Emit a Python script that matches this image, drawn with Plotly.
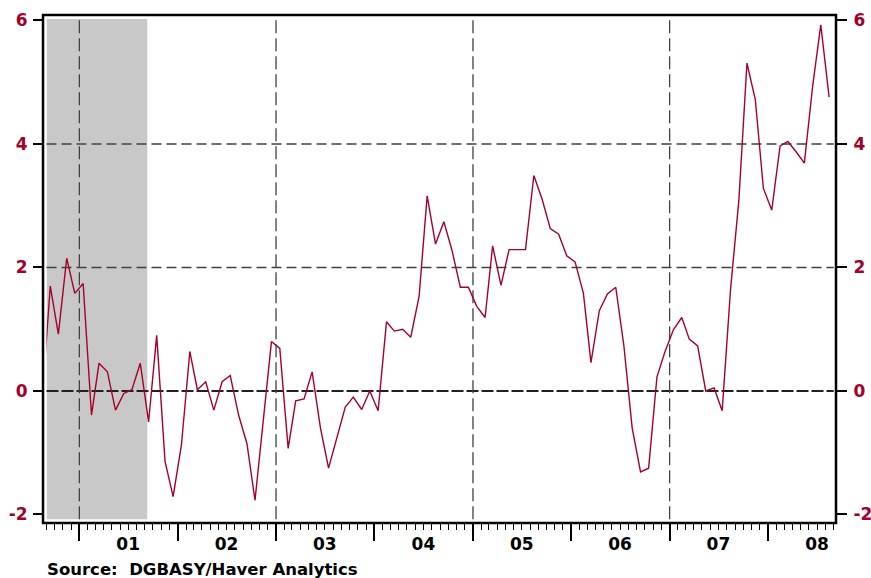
import pandas as pd
import plotly.graph_objects as go

# ---- data (monthly, Aug 2000 - Aug 2008) ----
start_month = "2000-08-01"
values = [
    -0.20, 1.70, 0.92, 2.15, 1.58,                                   # 2000 Aug-Dec
    1.74, -0.39, 0.45, 0.31, -0.31, -0.04, 0.02, 0.45, -0.50, 0.90, -1.14, -1.71,   # 2001
    -0.87, 0.64, 0.02, 0.15, -0.31, 0.15, 0.25, -0.39, -0.85, -1.77, -0.45, 0.80,   # 2002
    0.69, -0.93, -0.16, -0.13, 0.31, -0.60, -1.25, -0.74, -0.26, -0.10, -0.30, 0.00, # 2003
    -0.32, 1.12, 0.97, 1.00, 0.87, 1.53, 3.16, 2.38, 2.74, 2.28, 1.68, 1.68,         # 2004
    1.37, 1.19, 2.35, 1.71, 2.29, 2.29, 2.29, 3.49, 3.10, 2.63, 2.54, 2.19,          # 2005
    2.09, 1.58, 0.46, 1.30, 1.57, 1.68, 0.74, -0.60, -1.31, -1.25, 0.23, 0.64,       # 2006
    0.99, 1.19, 0.84, 0.73, 0.00, 0.05, -0.32, 1.64, 3.09, 5.31, 4.72, 3.28,         # 2007
    2.93, 3.97, 4.04, 3.87, 3.69, 4.94, 5.93, 4.76,                                  # 2008 Jan-Aug
]
year_labels = ["01", "02", "03", "04", "05", "06", "07", "08"]
label_dates = ["2001-07-01", "2002-07-01", "2003-07-01", "2004-07-01",
               "2005-07-01", "2006-07-01", "2007-07-01", "2008-07-01"]
year_starts = ["2001-01-01", "2002-01-01", "2003-01-01", "2004-01-01",
               "2005-01-01", "2006-01-01", "2007-01-01", "2008-01-01"]
vgrid_dates = ["2001-01-01", "2003-01-01", "2005-01-01", "2007-01-01"]
y_ticks = [-2, 0, 2, 4, 6]
y_ticktext = ["-2", "0", "2", "4", "6"]
hgrid_vals = [2, 4]
recession = ("2000-09-01", "2001-09-10")
x_range = ["2000-09-01", "2008-09-01"]
y_range = [-2.078, 6.024]

dates = (pd.date_range(start_month, periods=len(values), freq="MS")
         + pd.Timedelta(days=14)).strftime("%Y-%m-%d").tolist()

RED = "#A5002A"
W, H = 871, 578
ML, MR, MT, MB = 43, 35, 15, 55
PW, PH = W - ML - MR, H - MT - MB

def px_x(px):
    return (px - ML) / PW

def px_y(py):
    return (H - MB - py) / PH

fig = go.Figure()
fig.add_trace(go.Scatter(x=dates, y=values, mode="lines",
                         line=dict(color=RED, width=1.4),
                         hoverinfo="skip", showlegend=False))
# helper trace (single point, draws nothing) so the secondary axes get rendered
fig.add_trace(go.Scatter(x=[dates[0]], y=[values[0]], xaxis="x2", yaxis="y2",
                         mode="lines", line=dict(color="rgba(0,0,0,0)", width=0),
                         hoverinfo="skip", showlegend=False))

tickfont_red = dict(family="DejaVu Sans", size=17, color=RED, weight="bold")
tickfont_blk = dict(family="DejaVu Sans", size=17, color="black", weight="bold")

xdom = [px_x(46.5), px_x(833.7)]
ydom = [px_y(519.3), px_y(19)]

shapes = []
# recession shading
shapes.append(dict(type="rect", xref="x", yref="y domain", x0=recession[0], x1=recession[1],
                   y0=0, y1=1, fillcolor="#C8C8C8", line=dict(width=0), layer="below"))
for v in hgrid_vals:
    shapes.append(dict(type="line", xref="x domain", yref="y", x0=0, x1=1, y0=v, y1=v,
                       line=dict(color="#404040", width=1.3, dash="10px,5px"), layer="below"))
shapes.append(dict(type="line", xref="x domain", yref="y", x0=0, x1=1, y0=0, y1=0,
                   line=dict(color="#202020", width=1.8, dash="12px,3px"), layer="below"))
for d in vgrid_dates:
    shapes.append(dict(type="line", xref="x", yref="y domain", x0=d, x1=d, y0=0, y1=1,
                       line=dict(color="#404040", width=1.3, dash="13px,5px"), layer="below"))
# frame
shapes.append(dict(type="rect", xref="paper", yref="paper", x0=0, x1=1, y0=0, y1=1,
                   line=dict(color="black", width=2.5), fillcolor="rgba(0,0,0,0)", layer="above"))

fig.update_layout(
    width=W, height=H,
    margin=dict(l=ML, r=MR, t=MT, b=MB, autoexpand=False),
    paper_bgcolor="white", plot_bgcolor="white",
    showlegend=False,
    xaxis=dict(type="date", domain=xdom, range=x_range, anchor="free", position=0,
               automargin=False,
               tickmode="array", tickvals=label_dates, ticktext=year_labels,
               ticks="outside", ticklen=6, tickwidth=1, tickcolor="black",
               ticklabelstandoff=0,
               tickfont=tickfont_blk, showgrid=False, zeroline=False, showline=False,
               minor=dict(ticks="outside", ticklen=6, tickwidth=1, tickcolor="black",
                          dtick="M1", tick0="2000-01-01", showgrid=False)),
    xaxis2=dict(type="date", domain=xdom, range=x_range, anchor="free", position=0,
                automargin=False,
                overlaying="x", tickmode="array", tickvals=year_starts,
                ticks="outside", ticklen=17, tickwidth=2.2, tickcolor="black",
                showticklabels=False, showgrid=False, zeroline=False, showline=False),
    yaxis=dict(domain=ydom, range=y_range, anchor="free", position=0,
               automargin=False,
               tickmode="array", tickvals=y_ticks, ticktext=y_ticktext,
               ticks="outside", ticklen=10, tickwidth=2.2, tickcolor="black",
               ticklabelstandoff=2,
               tickfont=tickfont_red, showgrid=False, zeroline=False, showline=False),
    yaxis2=dict(domain=ydom, range=y_range, anchor="free", position=1, side="right",
                automargin=False,
                overlaying="y", tickmode="array", tickvals=y_ticks, ticktext=y_ticktext,
                ticks="outside", ticklen=10, tickwidth=2.2, tickcolor="black",
                ticklabelstandoff=3,
                tickfont=tickfont_red, showgrid=False, zeroline=False, showline=False),
    shapes=shapes,
    annotations=[dict(text="Source:  DGBASY/Haver Analytics", xref="paper", yref="paper",
                      x=px_x(45), y=px_y(558), xanchor="left", yanchor="top",
                      showarrow=False,
                      font=dict(family="DejaVu Sans", size=16.5, color="black", weight="bold"))],
)

fig.write_html("out.html", config={"displayModeBar": False},
               post_script="document.body.style.margin='0';document.body.style.padding='0';")
